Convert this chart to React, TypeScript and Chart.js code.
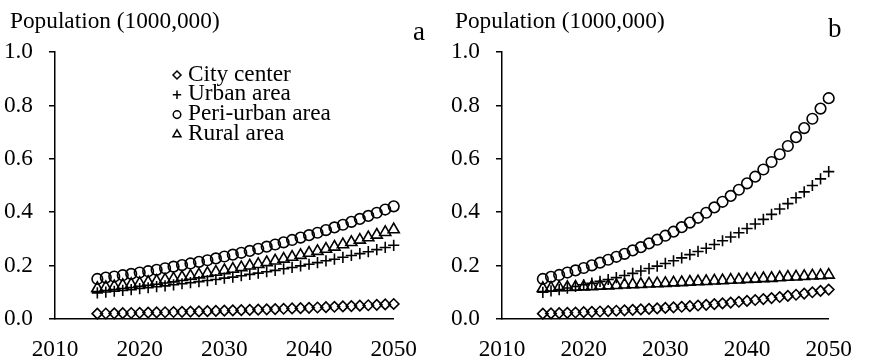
import { useEffect, useRef } from "react";
import { Chart, registerables } from "chart.js";
import { drawPoint } from "chart.js/helpers";

Chart.register(...registerables);

const FONT = "'Liberation Serif', 'Times New Roman', serif";

// Projection years (one point per year)
const years = [
  2015, 2016, 2017, 2018, 2019, 2020, 2021, 2022, 2023, 2024, 2025, 2026,
  2027, 2028, 2029, 2030, 2031, 2032, 2033, 2034, 2035, 2036, 2037, 2038,
  2039, 2040, 2041, 2042, 2043, 2044, 2045, 2046, 2047, 2048, 2049, 2050,
];

const xTicks = [2010, 2020, 2030, 2040, 2050];
const yTicks = [0, 0.2, 0.4, 0.6, 0.8, 1.0];

const seriesNames = ["City center", "Urban area", "Peri-urban area", "Rural area"];
const seriesStyles = ["rectRot", "cross", "circle", "triangle"];

const yTitle = "Population (1000,000)";

// Scenario a
const cityA = [
  0.02, 0.0206, 0.0212, 0.0219, 0.0225, 0.0232, 0.0239, 0.0246, 0.0253, 0.0261,
  0.0269, 0.0277, 0.0285, 0.0294, 0.0303, 0.0312, 0.0321, 0.0331, 0.034, 0.0351,
  0.0361, 0.0372, 0.0383, 0.0395, 0.0407, 0.0419, 0.0431, 0.0444, 0.0458, 0.0471,
  0.0485, 0.05, 0.0515, 0.053, 0.0546, 0.0563,
];
const urbanA = [
  0.098, 0.101, 0.104, 0.107, 0.11, 0.114, 0.117, 0.121, 0.124, 0.128, 0.132,
  0.136, 0.14, 0.144, 0.148, 0.153, 0.157, 0.162, 0.167, 0.172, 0.177, 0.182,
  0.188, 0.193, 0.199, 0.205, 0.211, 0.218, 0.224, 0.231, 0.238, 0.245, 0.252,
  0.26, 0.268, 0.276,
];
const periA = [
  0.15, 0.155, 0.159, 0.164, 0.169, 0.174, 0.179, 0.184, 0.19, 0.196, 0.202,
  0.208, 0.214, 0.22, 0.227, 0.234, 0.241, 0.248, 0.255, 0.263, 0.271, 0.279,
  0.287, 0.296, 0.305, 0.314, 0.323, 0.333, 0.343, 0.353, 0.364, 0.375, 0.386,
  0.398, 0.41, 0.422,
];
const ruralA = [
  0.115, 0.119, 0.122, 0.126, 0.13, 0.134, 0.138, 0.142, 0.147, 0.151, 0.156,
  0.161, 0.166, 0.171, 0.176, 0.182, 0.187, 0.193, 0.199, 0.205, 0.212, 0.218,
  0.225, 0.232, 0.239, 0.247, 0.254, 0.262, 0.27, 0.279, 0.287, 0.296, 0.305,
  0.315, 0.325, 0.335,
];

// Scenario b
const cityB = [
  0.02, 0.021, 0.0221, 0.0232, 0.0243, 0.0255, 0.0268, 0.0281, 0.0296, 0.031,
  0.0326, 0.0342, 0.0359, 0.0377, 0.0396, 0.0416, 0.0437, 0.0458, 0.0481, 0.0505,
  0.0531, 0.0557, 0.0585, 0.0614, 0.0645, 0.0677, 0.0711, 0.0747, 0.0784, 0.0823,
  0.0864, 0.0908, 0.0953, 0.1001, 0.1051, 0.1103,
];
const urbanB = [
  0.1, 0.105, 0.11, 0.116, 0.122, 0.128, 0.134, 0.141, 0.148, 0.155, 0.163,
  0.171, 0.18, 0.189, 0.198, 0.208, 0.218, 0.229, 0.241, 0.253, 0.265, 0.279,
  0.293, 0.307, 0.323, 0.339, 0.356, 0.373, 0.392, 0.412, 0.432, 0.454, 0.476,
  0.5, 0.525, 0.552,
];
const periB = [
  0.15, 0.158, 0.165, 0.174, 0.182, 0.191, 0.201, 0.211, 0.222, 0.233, 0.244,
  0.257, 0.269, 0.283, 0.297, 0.312, 0.327, 0.344, 0.361, 0.379, 0.398, 0.418,
  0.439, 0.461, 0.484, 0.508, 0.533, 0.56, 0.588, 0.617, 0.648, 0.681, 0.715,
  0.75, 0.788, 0.827,
];
const ruralB = [
  0.115, 0.116, 0.118, 0.119, 0.12, 0.121, 0.122, 0.124, 0.125, 0.126, 0.128,
  0.129, 0.13, 0.132, 0.133, 0.134, 0.136, 0.137, 0.139, 0.14, 0.141, 0.143,
  0.144, 0.146, 0.147, 0.149, 0.15, 0.152, 0.153, 0.155, 0.157, 0.158, 0.16,
  0.162, 0.163, 0.165,
];

type PanelProps = {
  width: number;
  axisLeft: number; // x of the value axis inside the canvas
  plotRight: number; // x of the last year inside the canvas
  letter: string;
  letterX: number;
  letterY: number;
  titleX: number;
  showLegend: boolean;
  series: number[][];
};

const markerRadius = [5.2, 5.6, 5.3, 6.4];
const legendRadius = [4, 4.2, 3.8, 4.6];

function Panel(p: PanelProps) {
  const ref = useRef<HTMLCanvasElement | null>(null);

  useEffect(() => {
    const canvas = ref.current;
    if (!canvas) return;

    const datasets = p.series.map((vals, i) => ({
      label: seriesNames[i],
      data: years.map((yr, k) => ({ x: yr, y: vals[k] })),
      pointStyle: seriesStyles[i] as any,
      pointRadius: markerRadius[i],
      pointBorderWidth: 1.6,
      pointBorderColor: "#000",
      pointBackgroundColor: "rgba(0,0,0,0)",
      showLine: false,
      clip: false as any,
    }));

    const decorations = {
      id: "panelText",
      afterDraw(chart: Chart) {
        const ctx = chart.ctx;
        ctx.save();
        ctx.fillStyle = "#000";
        ctx.textAlign = "left";
        ctx.textBaseline = "alphabetic";
        ctx.font = `23.3px ${FONT}`;
        ctx.fillText(yTitle, p.titleX, 28);
        ctx.font = `27px ${FONT}`;
        ctx.fillText(p.letter, p.letterX, p.letterY);

        if (p.showLegend) {
          ctx.font = `23.3px ${FONT}`;
          ctx.textBaseline = "middle";
          seriesNames.forEach((name, i) => {
            const cy = 75 + i * 19.8;
            ctx.strokeStyle = "#000";
            ctx.lineWidth = 1.5;
            ctx.fillStyle = "rgba(0,0,0,0)";
            drawPoint(
              ctx,
              { pointStyle: seriesStyles[i] as any, radius: legendRadius[i], rotation: 0, borderWidth: 1.5 },
              177,
              cy
            );
            ctx.fillStyle = "#000";
            ctx.fillText(name, 188, cy - 0.5);
          });
        }
        ctx.restore();
      },
    };

    const chart = new Chart(canvas, {
      type: "scatter",
      data: { datasets },
      plugins: [decorations],
      options: {
        responsive: false,
        animation: false,
        events: [],
        layout: {
          padding: { top: 52, left: 0, right: p.width - p.plotRight, bottom: 0 },
        },
        plugins: {
          legend: { display: false },
          tooltip: { enabled: false },
          title: { display: false },
        },
        scales: {
          x: {
            type: "linear",
            min: 2010,
            max: 2050,
            afterBuildTicks: (s: any) => {
              s.ticks = xTicks.map((v) => ({ value: v }));
            },
            afterFit: (s: any) => {
              s.height = 41;
            },
            ticks: {
              color: "#000",
              font: { family: FONT, size: 23.3 },
              padding: 17,
              maxRotation: 0,
              autoSkip: false,
              callback: (v: any) => String(v),
            },
            grid: { display: false, drawTicks: false },
            border: { display: true, color: "#000", width: 1.5 },
          },
          y: {
            type: "linear",
            min: 0,
            max: 1,
            afterBuildTicks: (s: any) => {
              s.ticks = yTicks.map((v) => ({ value: v }));
            },
            afterFit: (s: any) => {
              s.width = p.axisLeft;
            },
            ticks: {
              color: "#000",
              font: { family: FONT, size: 23.3 },
              padding: 16,
              callback: (v: any) => Number(v).toFixed(1),
            },
            grid: {
              display: true,
              drawOnChartArea: false,
              drawTicks: true,
              tickLength: 6,
              color: "#000",
              lineWidth: 1.5,
            },
            border: { display: true, color: "#000", width: 1.5 },
          },
        },
      },
    });

    return () => chart.destroy();
  }, []);

  return (
    <canvas
      ref={ref}
      width={p.width}
      height={360}
      style={{ display: "block", width: p.width, height: 360 }}
    />
  );
}

export default function App() {
  return (
    <div
      style={{
        position: "absolute",
        left: 0,
        top: 0,
        width: 869,
        height: 360,
        display: "flex",
        background: "#fff",
      }}
    >
      <Panel
        width={434}
        axisLeft={55}
        plotRight={405}
        letter="a"
        letterX={413}
        letterY={40}
        titleX={10}
        showLegend={true}
        series={[cityA, urbanA, periA, ruralA]}
      />
      <Panel
        width={435}
        axisLeft={68}
        plotRight={409}
        letter="b"
        letterX={394}
        letterY={37}
        titleX={21}
        showLegend={false}
        series={[cityB, urbanB, periB, ruralB]}
      />
    </div>
  );
}
